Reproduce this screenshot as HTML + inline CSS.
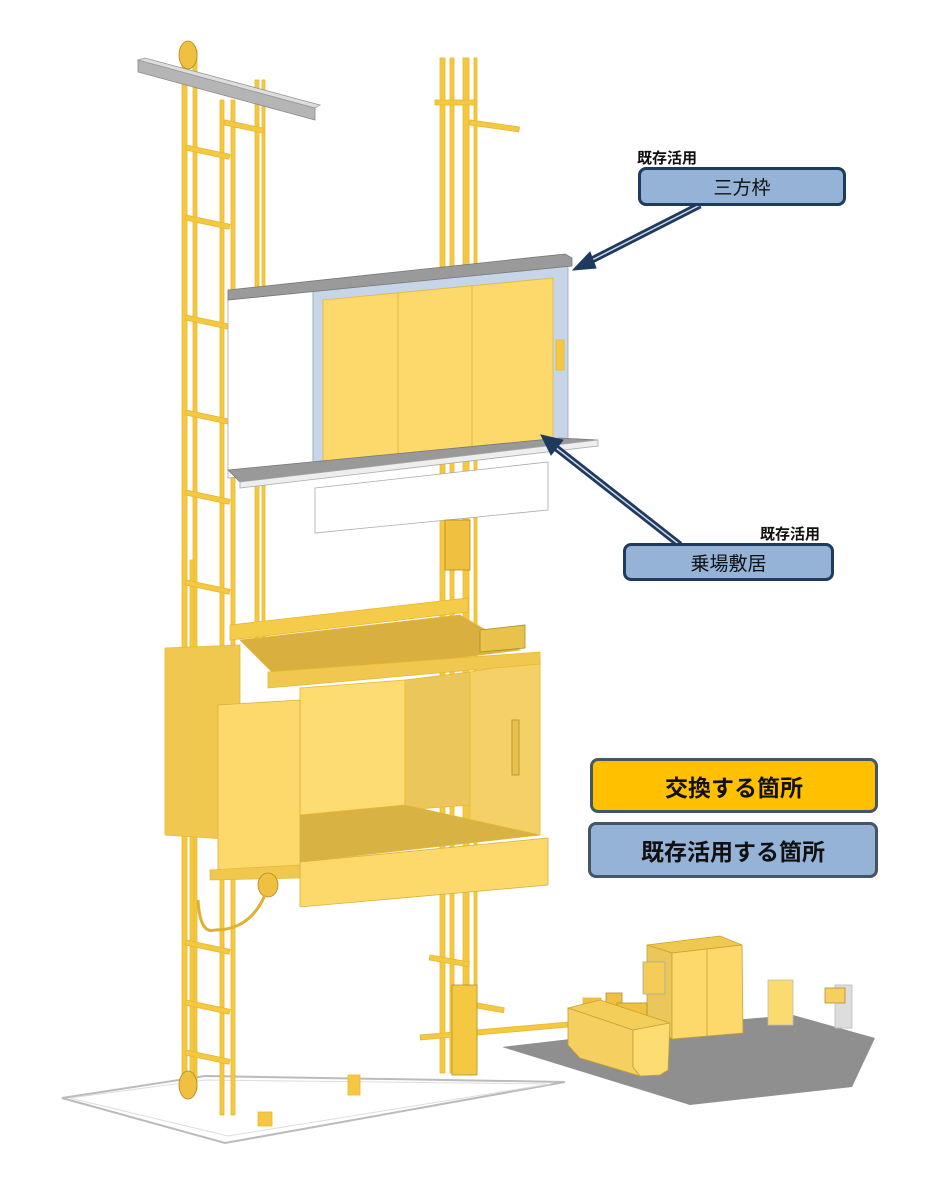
<!DOCTYPE html>
<html><head><meta charset="utf-8"><style>
html,body{margin:0;padding:0;background:#fff;}
.wrap{position:relative;width:950px;height:1200px;overflow:hidden;font-family:"Liberation Sans","Noto Sans CJK JP",sans-serif;}
.lbl{position:absolute;box-sizing:border-box;border:3px solid #1f3a5f;border-radius:8px;background:#95b3d7;display:flex;align-items:center;justify-content:center;color:#111;}
.sm{position:absolute;font-size:15px;font-weight:bold;color:#111;}
</style></head><body><div class="wrap">
<svg width="950" height="1200" style="position:absolute;left:0;top:0">
<g stroke="#e8b830" stroke-width="0.8">
<polygon points="62,1098 205,1076 565,1082 225,1143" fill="none" stroke="#bbb" stroke-width="2"/>
<polygon points="70,1098 205,1080 550,1084 228,1136" fill="none" stroke="#ddd" stroke-width="1"/>
<!-- machine room floor -->
<polygon points="502,1047 733,1020 793,1015 875,1038 852,1087 690,1105" fill="#8f8f8f" stroke="none"/>
<rect x="182" y="50" width="5" height="1040" fill="#f5c842"/>
<rect x="193" y="50" width="4" height="1040" fill="#f5c842"/>
<rect x="220" y="100" width="4" height="1015" fill="#f5c842"/>
<rect x="231" y="100" width="4" height="1015" fill="#f5c842"/>
<rect x="255" y="80" width="4" height="560" fill="#f5c842"/>
<rect x="262" y="80" width="3" height="560" fill="#f5c842"/>
<rect x="440" y="58" width="5" height="1015" fill="#f5c842"/>
<rect x="450" y="58" width="4" height="1015" fill="#f5c842"/>
<rect x="463" y="58" width="6" height="1010" fill="#f5c842"/>
<rect x="474" y="58" width="3" height="1010" fill="#f5c842"/>
<rect x="190" y="560" width="4" height="520" fill="#f5c842"/>
<g fill="#f5c842">
<rect x="186" y="145" width="45" height="5" transform="rotate(12 186 145)"/>
<rect x="186" y="215" width="45" height="5" transform="rotate(12 186 215)"/>
<rect x="186" y="315" width="45" height="5" transform="rotate(12 186 315)"/>
<rect x="186" y="410" width="45" height="5" transform="rotate(12 186 410)"/>
<rect x="186" y="490" width="45" height="5" transform="rotate(12 186 490)"/>
<rect x="186" y="580" width="45" height="5" transform="rotate(12 186 580)"/>
<rect x="186" y="940" width="45" height="5" transform="rotate(12 186 940)"/>
<rect x="186" y="1000" width="45" height="5" transform="rotate(12 186 1000)"/>
<rect x="186" y="1050" width="45" height="5" transform="rotate(12 186 1050)"/>
<rect x="225" y="120" width="40" height="5" transform="rotate(12 225 120)"/>
<rect x="435" y="100" width="40" height="5"/>
<rect x="470" y="120" width="50" height="5" transform="rotate(8 470 120)"/>
<rect x="430" y="955" width="40" height="5" transform="rotate(10 430 955)"/>
<rect x="460" y="1000" width="45" height="5" transform="rotate(10 460 1000)"/>
<rect x="420" y="1035" width="150" height="5" transform="rotate(-5 420 1035)"/>
</g>
<polygon points="138,60 315,108 315,120 138,72" fill="#b5b5b5" stroke="#888"/>
<polygon points="138,60 145,58 320,105 315,108" fill="#ddd" stroke="#999"/>
<ellipse cx="188" cy="55" rx="9" ry="14" fill="#f0c040" stroke="#b08a20"/>
<ellipse cx="188" cy="1085" rx="9" ry="14" fill="#f0c040" stroke="#b08a20"/>
<polygon points="228,296 313,287 313,470 228,478" fill="#fff" stroke="#aaa"/>
<polygon points="313,285 568,260 568,442 313,468" fill="#c6d5e8" stroke="#9aa"/>
<polygon points="323,300 553,278 553,440 323,465" fill="#fdd96b" stroke="#e0b840"/>
<line x1="398" y1="293" x2="398" y2="458" stroke="#d8b040"/>
<line x1="472" y1="286" x2="472" y2="450" stroke="#d8b040"/>
<rect x="556" y="340" width="8" height="30" fill="#f5c842"/>
<polygon points="228,290 565,254 572,258 572,266 228,300" fill="#9a9a9a" stroke="#777"/>
<polygon points="228,470 560,438 598,440 240,482" fill="#999" stroke="#777"/>
<polygon points="240,482 598,440 598,446 240,488" fill="#eee" stroke="#aaa"/>
<polygon points="315,488 548,462 548,510 315,533" fill="#fff" stroke="#aaa"/>
<rect x="445" y="520" width="25" height="50" fill="#f0c040" stroke="#b08a20"/>
<polygon points="230,625 468,598 468,612 230,640" fill="#f5cc4a"/>
<polygon points="240,640 460,615 520,650 280,680" fill="#d9b040"/>
<polygon points="480,630 525,625 525,648 480,652" fill="#e8c24a" stroke="#a88a30"/>
<polygon points="165,648 240,645 240,840 165,835" fill="#f0c850"/>
<polygon points="300,688 405,680 405,810 300,815" fill="#fddc72"/>
<polygon points="405,680 470,672 470,805 405,810" fill="#ebc65a"/>
<polygon points="470,672 540,660 540,835 470,840" fill="#f4d066"/>
<rect x="512" y="720" width="7" height="55" fill="#e8c050" stroke="#b0902a"/>
<polygon points="268,672 540,652 540,664 268,688" fill="#f0c850"/>
<polygon points="300,815 405,805 540,835 300,862" fill="#d8b242"/>
<polygon points="218,705 300,700 300,870 218,873" fill="#fdd96b" stroke="#d8b040"/>
<polygon points="210,870 300,865 300,878 210,880" fill="#f0c850"/>
<polygon points="300,862 548,838 548,885 300,907" fill="#fdd96b" stroke="#d8b040"/>
<ellipse cx="268" cy="885" rx="10" ry="12" fill="#f0c040" stroke="#b08a20"/>
<path d="M265,895 Q250,930 215,930 Q200,935 198,900" fill="none" stroke="#e0b030" stroke-width="3"/>
<rect x="452" y="985" width="25" height="90" fill="#f5c842" stroke="#b09030"/>
<rect x="348" y="1075" width="12" height="20" fill="#f5c842"/>
<rect x="258" y="1112" width="14" height="14" fill="#f5c842"/>
<!-- cabinet -->
<polygon points="647,945 720,936 742,945 672,953" fill="#f0c850" stroke="#c8a030"/>
<polygon points="647,945 672,953 672,1039 647,1020" fill="#ebc65a" stroke="#c8a030"/>
<polygon points="672,953 742,945 743,1033 672,1039" fill="#fdd96b" stroke="#c8a030"/>
<line x1="707" y1="949" x2="707" y2="1036" stroke="#c8a030"/>
<rect x="643" y="962" width="22" height="32" fill="#f5cc55" stroke="#aaa"/>
<!-- tank -->
<rect x="583" y="998" width="18" height="12" fill="#f0c040"/>
<rect x="606" y="993" width="16" height="18" fill="#f0c040" stroke="#b09030"/>
<rect x="617" y="1003" width="30" height="14" fill="#f0c040" stroke="#b09030"/>
<polygon points="568,1008 600,1000 670,1023 633,1030" fill="#f3cf5a" stroke="#c8a030"/>
<polygon points="568,1008 633,1030 633,1067 640,1076 580,1058 568,1045" fill="#f5d060" stroke="#c8a030"/>
<polygon points="633,1030 670,1023 668,1070 660,1075 640,1076 633,1067" fill="#fddc72" stroke="#c8a030"/>
<rect x="768" y="980" width="25" height="45" fill="#fadb70" stroke="#bbb"/>
<rect x="835" y="985" width="17" height="43" fill="#ddd" stroke="#bbb"/>
<rect x="825" y="988" width="20" height="15" fill="#f5d060" stroke="#b09030"/>
</g>
<g stroke="#1f3a5f" fill="#1f3a5f">
<line x1="700" y1="205" x2="588" y2="262" stroke-width="7"/>
<line x1="700" y1="205" x2="588" y2="262" stroke="#cfd9e8" stroke-width="1.5"/>
<polygon points="573,270 590,252 596,268"/>
<line x1="680" y1="545" x2="555" y2="447" stroke-width="7"/>
<line x1="680" y1="545" x2="555" y2="447" stroke="#cfd9e8" stroke-width="1.5"/>
<polygon points="541,435 563,440 551,455"/>
</g>
</svg>
<div class="sm" style="left:637px;top:147px">既存活用</div>
<div class="lbl" style="left:638px;top:167px;width:208px;height:39px;font-size:19px;">三方枠</div>
<div class="sm" style="left:760px;top:523px">既存活用</div>
<div class="lbl" style="left:623px;top:543px;width:211px;height:38px;font-size:19px;">乗場敷居</div>
<div class="lbl" style="left:590px;top:758px;width:288px;height:55px;background:#ffc000;font-size:23px;font-weight:bold;border-color:#445566;">交換する箇所</div>
<div class="lbl" style="left:588px;top:822px;width:290px;height:56px;font-size:23px;font-weight:bold;border-color:#445566;">既存活用する箇所</div>
</div></body></html>
